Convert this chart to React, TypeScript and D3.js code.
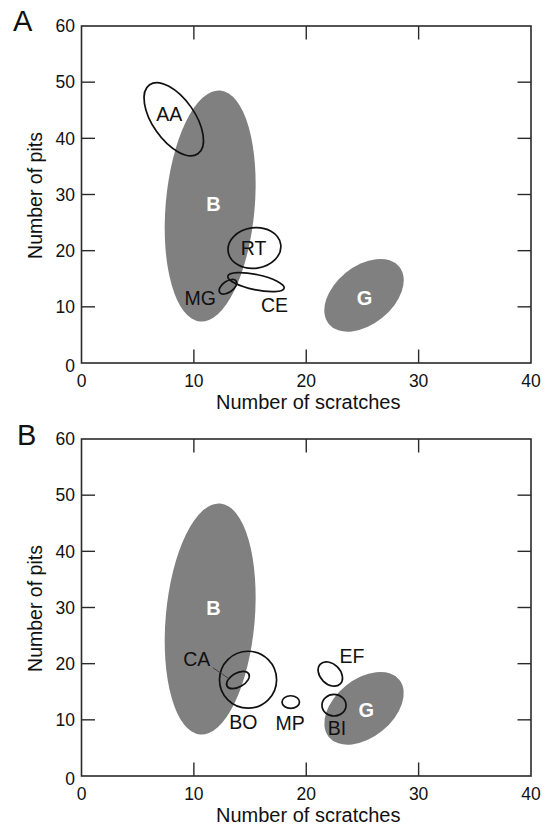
import React from "react";
import * as d3 from "d3";

const xTicks = [0, 10, 20, 30, 40];
const yTicks = [0, 10, 20, 30, 40, 50, 60];

// ellipses: center (data), semi-axes (data units), rotation (deg)
const ellipsesA = [
  { name: "B", cx: 11.45, cy: 27.95, rx: 3.96, ry: 20.65, angle: 5, filled: true },
  { name: "G", cx: 25.14, cy: 12.05, rx: 4.04, ry: 5.16, angle: -39, filled: true },
  { name: "AA", cx: 8.21, cy: 43.4, rx: 3.75, ry: 3.76, angle: 55, filled: false },
  { name: "RT", cx: 15.39, cy: 20.47, rx: 2.36, ry: 3.61, angle: -8, filled: false },
  { name: "CE", cx: 15.53, cy: 14.39, rx: 2.56, ry: 1.35, angle: 12, filled: false },
  { name: "MG", cx: 13.03, cy: 13.58, rx: 0.89, ry: 0.98, angle: -35, filled: false },
];
const labelsA = [
  { text: "B", x: 11.74, y: 28.31, bold: true },
  { text: "G", x: 25.19, y: 11.52, bold: true },
  { text: "AA", x: 7.82, y: 44.28, bold: false },
  { text: "RT", x: 15.31, y: 20.42, bold: false },
  { text: "CE", x: 17.18, y: 10.33, bold: false },
  { text: "MG", x: 10.56, y: 11.52, bold: false },
];

const ellipsesB = [
  { name: "B", cx: 11.45, cy: 27.95, rx: 3.96, ry: 20.65, angle: 5, filled: true },
  { name: "G", cx: 25.14, cy: 12.05, rx: 4.04, ry: 5.16, angle: -39, filled: true },
  { name: "BO", cx: 14.82, cy: 17.14, rx: 2.54, ry: 5.07, angle: 0, filled: false },
  { name: "CA", cx: 13.92, cy: 17.09, rx: 1.11, ry: 1.25, angle: -30, filled: false },
  { name: "MP", cx: 18.62, cy: 13.17, rx: 0.78, ry: 1.12, angle: 0, filled: false },
  { name: "EF", cx: 22.14, cy: 18.16, rx: 1.25, ry: 1.78, angle: 45, filled: false },
  { name: "BI", cx: 22.47, cy: 12.6, rx: 1.07, ry: 1.92, angle: 0, filled: false },
];
const labelsB = [
  { text: "B", x: 11.74, y: 29.87, bold: true },
  { text: "G", x: 25.35, y: 11.75, bold: true },
  { text: "CA", x: 10.26, y: 20.78, bold: false },
  { text: "BO", x: 14.41, y: 9.67, bold: false },
  { text: "MP", x: 18.57, y: 9.49, bold: false },
  { text: "EF", x: 24.07, y: 21.36, bold: false },
  { text: "BI", x: 22.73, y: 8.49, bold: false },
];
const leadersB = [{ x1: 11.69, y1: 19.28, x2: 13.08, y2: 17.39 }];

const FONT = "Liberation Sans, Arial, Helvetica, sans-serif";
const LEFT = 81.5;
const RIGHT = 531;
const PH = 337;
const GRAY = "#808080";
const AXIS = "#2a2a2a";

type Ell = { name: string; cx: number; cy: number; rx: number; ry: number; angle: number; filled: boolean };
type Lab = { text: string; x: number; y: number; bold: boolean };
type Lead = { x1: number; y1: number; x2: number; y2: number };

function Panel({ top, letter, ellipses, labels, leaders }: { top: number; letter: string; ellipses: Ell[]; labels: Lab[]; leaders: Lead[] }) {
  const x = d3.scaleLinear().domain([0, 40]).range([LEFT, RIGHT]);
  const y = d3.scaleLinear().domain([0, 60]).range([top + PH, top]);
  const bottom = top + PH;
  const tl = 13.5;
  return (
    <g>
      {ellipses.filter((e) => e.filled).map((e) => (
        <ellipse
          key={e.name}
          transform={`translate(${x(e.cx)},${y(e.cy)}) rotate(${e.angle})`}
          rx={x(e.cx + e.rx) - x(e.cx)}
          ry={y(e.cy) - y(e.cy + e.ry)}
          fill={GRAY}
        />
      ))}
      {ellipses.filter((e) => !e.filled).map((e) => (
        <ellipse
          key={e.name}
          transform={`translate(${x(e.cx)},${y(e.cy)}) rotate(${e.angle})`}
          rx={x(e.cx + e.rx) - x(e.cx)}
          ry={y(e.cy) - y(e.cy + e.ry)}
          fill="none"
          stroke="#111"
          strokeWidth={1.7}
        />
      ))}
      {leaders.map((l, i) => (
        <line key={i} x1={x(l.x1)} y1={y(l.y1)} x2={x(l.x2)} y2={y(l.y2)} stroke="#333" strokeWidth={0.8} />
      ))}
      {labels.map((l) => (
        <text
          key={l.text}
          x={x(l.x)}
          y={y(l.y)}
          dy="0.36em"
          textAnchor="middle"
          fontFamily={FONT}
          fontSize={l.bold ? 20 : 19.5}
          fontWeight={l.bold ? "bold" : "normal"}
          fill={l.bold ? "#fff" : "#111"}
        >
          {l.text}
        </text>
      ))}
      <rect x={LEFT} y={top} width={RIGHT - LEFT} height={PH} fill="none" stroke={AXIS} strokeWidth={1.6} />
      {xTicks.filter((t) => t > 0 && t < 40).map((t) => (
        <g key={"xt" + t}>
          <line x1={x(t)} x2={x(t)} y1={bottom} y2={bottom - tl} stroke={AXIS} strokeWidth={1.4} />
          <line x1={x(t)} x2={x(t)} y1={top} y2={top + tl} stroke={AXIS} strokeWidth={1.4} />
        </g>
      ))}
      {yTicks.filter((t) => t > 0 && t < 60).map((t) => (
        <g key={"yt" + t}>
          <line x1={LEFT} x2={LEFT + tl} y1={y(t)} y2={y(t)} stroke={AXIS} strokeWidth={1.4} />
          <line x1={RIGHT} x2={RIGHT - tl} y1={y(t)} y2={y(t)} stroke={AXIS} strokeWidth={1.4} />
        </g>
      ))}
      {xTicks.map((t) => (
        <text key={"xl" + t} x={x(t)} y={bottom + 24} textAnchor="middle" fontFamily={FONT} fontSize={17.5} fill="#111">
          {t}
        </text>
      ))}
      {yTicks.map((t) => (
        <text
          key={"yl" + t}
          x={LEFT - 6.5}
          y={y(t) + (t === 0 ? 3 : 0)}
          dy="0.36em"
          textAnchor="end"
          fontFamily={FONT}
          fontSize={17.5}
          fill="#111"
        >
          {t}
        </text>
      ))}
      <text x={(LEFT + RIGHT) / 2 + 2} y={bottom + 46} textAnchor="middle" fontFamily={FONT} fontSize={20} fill="#111">
        Number of scratches
      </text>
      <text
        transform={`translate(41.5,${top + PH / 2 + 1}) rotate(-90)`}
        textAnchor="middle"
        fontFamily={FONT}
        fontSize={19.5}
        fill="#111"
      >
        Number of pits
      </text>
      <text x={letter === "A" ? 13 : 17} y={top + (letter === "A" ? 5 : 6)} fontFamily={FONT} fontSize={29} fill="#111">
        {letter}
      </text>
    </g>
  );
}

export default function App() {
  return (
    <svg width={551} height={828} style={{ position: "absolute", left: 0, top: 0, background: "#fff" }}>
      <rect width={551} height={828} fill="#fff" />
      <Panel top={26} letter="A" ellipses={ellipsesA} labels={labelsA} leaders={[]} />
      <Panel top={439} letter="B" ellipses={ellipsesB} labels={labelsB} leaders={leadersB} />
    </svg>
  );
}
